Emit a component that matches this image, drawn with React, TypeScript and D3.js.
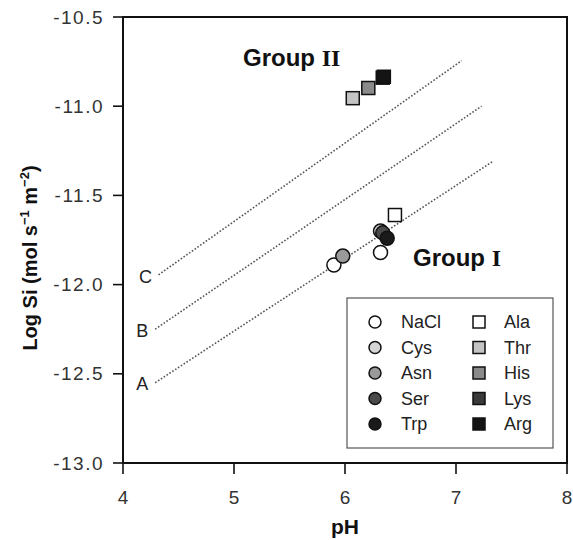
import React from "react";
import * as d3 from "d3";

const W = 573;
const H = 540;

// Data
const xTicks = [4, 5, 6, 7, 8];
const yTicks = [-10.5, -11.0, -11.5, -12.0, -12.5, -13.0];

// Circles (Group I amino acids / NaCl)
const circleNames = ["NaCl", "NaCl", "Asn", "Cys", "Ser", "Trp"];
const circleX = [5.9, 6.32, 5.98, 6.32, 6.34, 6.38];
const circleY = [-11.89, -11.82, -11.84, -11.70, -11.71, -11.74];

// Squares
const squareNames = ["Ala", "Thr", "His", "Lys", "Arg"];
const squareX = [6.45, 6.07, 6.21, 6.34, 6.35];
const squareY = [-11.61, -10.955, -10.898, -10.84, -10.835];

// Reference lines A, B, C
const lineNames = ["A", "B", "C"];
const lineX0 = [4.29, 4.29, 4.32];
const lineY0 = [-12.55, -12.25, -11.945];
const lineX1 = [7.33, 7.23, 7.05];
const lineY1 = [-11.31, -11.0, -10.745];

const legendCircles = ["NaCl", "Cys", "Asn", "Ser", "Trp"];
const legendSquares = ["Ala", "Thr", "His", "Lys", "Arg"];

const fills: Record<string, string> = {
  NaCl: "#ffffff",
  Cys: "#d4d4d4",
  Asn: "#9a9a9a",
  Ser: "#4a4a4a",
  Trp: "#1a1a1a",
  Ala: "#ffffff",
  Thr: "#c4c4c4",
  His: "#8a8a8a",
  Lys: "#3a3a3a",
  Arg: "#141414",
};

const FONT = "'Liberation Sans', Arial, sans-serif";

export default function App() {
  const x = d3.scaleLinear().domain([4, 8]).range([123, 567]);
  const y = d3.scaleLinear().domain([-13, -10.5]).range([463, 17]);
  const r = 7;
  const s = 13;

  return (
    <svg
      width={W}
      height={H}
      style={{ position: "absolute", left: 0, top: 0, background: "#fff" }}
      fontFamily={FONT}
    >
      {/* reference lines */}
      {lineNames.map((n, i) => (
        <g key={n}>
          <line
            x1={x(lineX0[i])}
            y1={y(lineY0[i])}
            x2={x(lineX1[i])}
            y2={y(lineY1[i])}
            stroke="#555"
            strokeWidth={1.6}
            strokeDasharray="1.6 1.8"
          />
          <text
            x={x(lineX0[i]) - 13}
            y={y(lineY0[i]) + 3}
            fontSize={18}
            fill="#222"
            textAnchor="middle"
            dominantBaseline="middle"
          >
            {n}
          </text>
        </g>
      ))}

      {/* frame */}
      <rect x={123} y={17} width={444} height={446} fill="none" stroke="#111" strokeWidth={2} />

      {/* y ticks */}
      {yTicks.map((t) => (
        <g key={t}>
          <line x1={113} x2={123} y1={y(t)} y2={y(t)} stroke="#111" strokeWidth={1.6} />
          <text
            x={104}
            y={y(t)}
            textAnchor="end"
            dominantBaseline="central"
            fontSize={19}
            letterSpacing={1.5}
            fill="#333"
          >
            {d3.format(".1f")(t).replace("−", "-")}
          </text>
        </g>
      ))}

      {/* x ticks */}
      {xTicks.map((t) => (
        <g key={t}>
          <line x1={x(t)} x2={x(t)} y1={463} y2={474} stroke="#111" strokeWidth={1.6} />
          <text x={x(t)} y={497} textAnchor="middle" dominantBaseline="central" fontSize={19} fill="#333">
            {t}
          </text>
        </g>
      ))}

      {/* axis titles */}
      <text x={345} y={534} textAnchor="middle" fontSize={21} fontWeight="bold" fill="#111">
        pH
      </text>
      <text
        transform={`translate(37,258) rotate(-90)`}
        textAnchor="middle"
        fontSize={20}
        fontWeight="bold"
        fill="#111"
      >
        Log Si (mol s
        <tspan dy={-8} fontSize={13}>−1</tspan>
        <tspan dy={8}> m</tspan>
        <tspan dy={-8} fontSize={13}>−2</tspan>
        <tspan dy={8}>)</tspan>
      </text>

      {/* group labels */}
      <text x={243} y={66} fontSize={24} fontWeight="bold" fill="#111">
        Group <tspan fontFamily="'Liberation Serif', serif">II</tspan>
      </text>
      <text x={413} y={266} fontSize={24} fontWeight="bold" fill="#111">
        Group <tspan fontFamily="'Liberation Serif', serif">I</tspan>
      </text>

      {/* circles */}
      {circleNames.map((n, i) => (
        <circle
          key={"c" + i}
          cx={x(circleX[i])}
          cy={y(circleY[i])}
          r={r}
          fill={fills[n]}
          stroke="#111"
          strokeWidth={1.5}
        />
      ))}

      {/* squares */}
      {squareNames.map((n, i) => (
        <rect
          key={"s" + i}
          x={x(squareX[i]) - s / 2}
          y={y(squareY[i]) - s / 2}
          width={s}
          height={s}
          fill={fills[n]}
          stroke="#111"
          strokeWidth={1.5}
        />
      ))}

      {/* legend */}
      <rect x={347} y={298} width={206} height={150} fill="#fff" stroke="#555" strokeWidth={1.2} />
      {legendCircles.map((n, i) => (
        <g key={"lc" + n}>
          <circle cx={375} cy={322 + i * 25.5} r={6} fill={fills[n]} stroke="#111" strokeWidth={1.5} />
          <text x={401} y={322 + i * 25.5} dominantBaseline="central" fontSize={18} fill="#222">
            {n}
          </text>
        </g>
      ))}
      {legendSquares.map((n, i) => (
        <g key={"ls" + n}>
          <rect x={473} y={316 + i * 25.5} width={12} height={12} fill={fills[n]} stroke="#111" strokeWidth={1.5} />
          <text x={504} y={322 + i * 25.5} dominantBaseline="central" fontSize={18} fill="#222">
            {n}
          </text>
        </g>
      ))}
    </svg>
  );
}
